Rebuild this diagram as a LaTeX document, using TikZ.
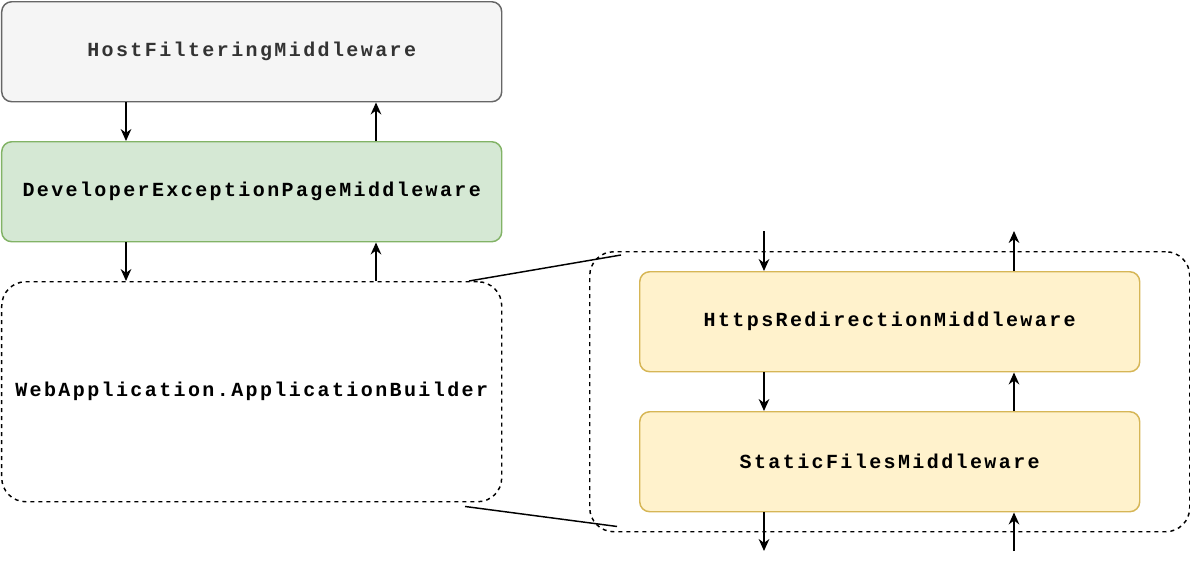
\documentclass[tikz,border=0pt]{standalone}
\usepackage{fontspec}
\setmonofont[LetterSpace=12]{Liberation Mono}
\usetikzlibrary{calc,arrows.meta}
\definecolor{hostf}{HTML}{F5F5F5}\definecolor{hostd}{HTML}{666666}
\definecolor{devf}{HTML}{D5E8D4}\definecolor{devd}{HTML}{82B366}
\definecolor{ylf}{HTML}{FFF2CC}\definecolor{yld}{HTML}{D6B656}
\definecolor{hostt}{HTML}{333333}
\begin{document}
\begin{tikzpicture}[x=0.75pt,y=-0.75pt,
  box/.style={rounded corners=7.5pt,line width=1.1pt,minimum width=375pt,minimum height=75pt,inner sep=0pt,font=\ttfamily\bfseries\fontsize{15}{17}\selectfont},
  dbox/.style={draw,dashed,line width=1.1pt,rounded corners=18pt,inner sep=0pt,font=\ttfamily\bfseries\fontsize{15}{17}\selectfont},
  arr/.style={-{Stealth[length=9pt,width=8pt]},line width=1.1pt}]
\useasboundingbox (0,0) rectangle (1190,568);
\node[box,draw=hostd,fill=hostf,anchor=north west,text=hostt] (host) at (1,1) {HostFilteringMiddleware};
\node[box,draw=devd,fill=devf,anchor=north west] (dev) at (1,141) {DeveloperExceptionPageMiddleware};
\node[dbox,minimum width=375pt,minimum height=165pt,anchor=north west] (web) at (1,281) {WebApplication.ApplicationBuilder};
\node[dbox,minimum width=450pt,minimum height=210pt,anchor=north west] (cont) at (589,251) {};
\node[box,draw=yld,fill=ylf,anchor=north west] (https) at (639,271) {HttpsRedirectionMiddleware};
\node[box,draw=yld,fill=ylf,anchor=north west] (stat) at (639,411) {StaticFilesMiddleware};
\draw[arr] ([xshift=93.75pt]host.south west) -- ([xshift=93.75pt]dev.north west);
\draw[arr] ([xshift=281.25pt]dev.north west) -- ([xshift=281.25pt]host.south west);
\draw[arr] ([xshift=93.75pt]dev.south west) -- ([xshift=93.75pt]web.north west);
\draw[arr] ([xshift=281.25pt]web.north west) -- ([xshift=281.25pt]dev.south west);
\coordinate (t1) at (764,231); \coordinate (t2) at (1014,231);
\coordinate (b1) at (764,551); \coordinate (b2) at (1014,551);
\draw[arr] (t1) -- ([xshift=93.75pt]https.north west);
\draw[arr] ([xshift=281.25pt]https.north west) -- (t2);
\draw[arr] ([xshift=93.75pt]https.south west) -- ([xshift=93.75pt]stat.north west);
\draw[arr] ([xshift=281.25pt]stat.north west) -- ([xshift=281.25pt]https.south west);
\draw[arr] ([xshift=93.75pt]stat.south west) -- (b1);
\draw[arr] (b2) -- ([xshift=281.25pt]stat.south west);
\draw[line width=1.1pt] ([xshift=351pt]web.north west) -- ([xshift=24pt,yshift=-3pt]cont.north west);
\draw[line width=1.1pt] ([xshift=348pt,yshift=-3pt]web.south west) -- ([xshift=21pt,yshift=4.5pt]cont.south west);
\end{tikzpicture}
\end{document}
